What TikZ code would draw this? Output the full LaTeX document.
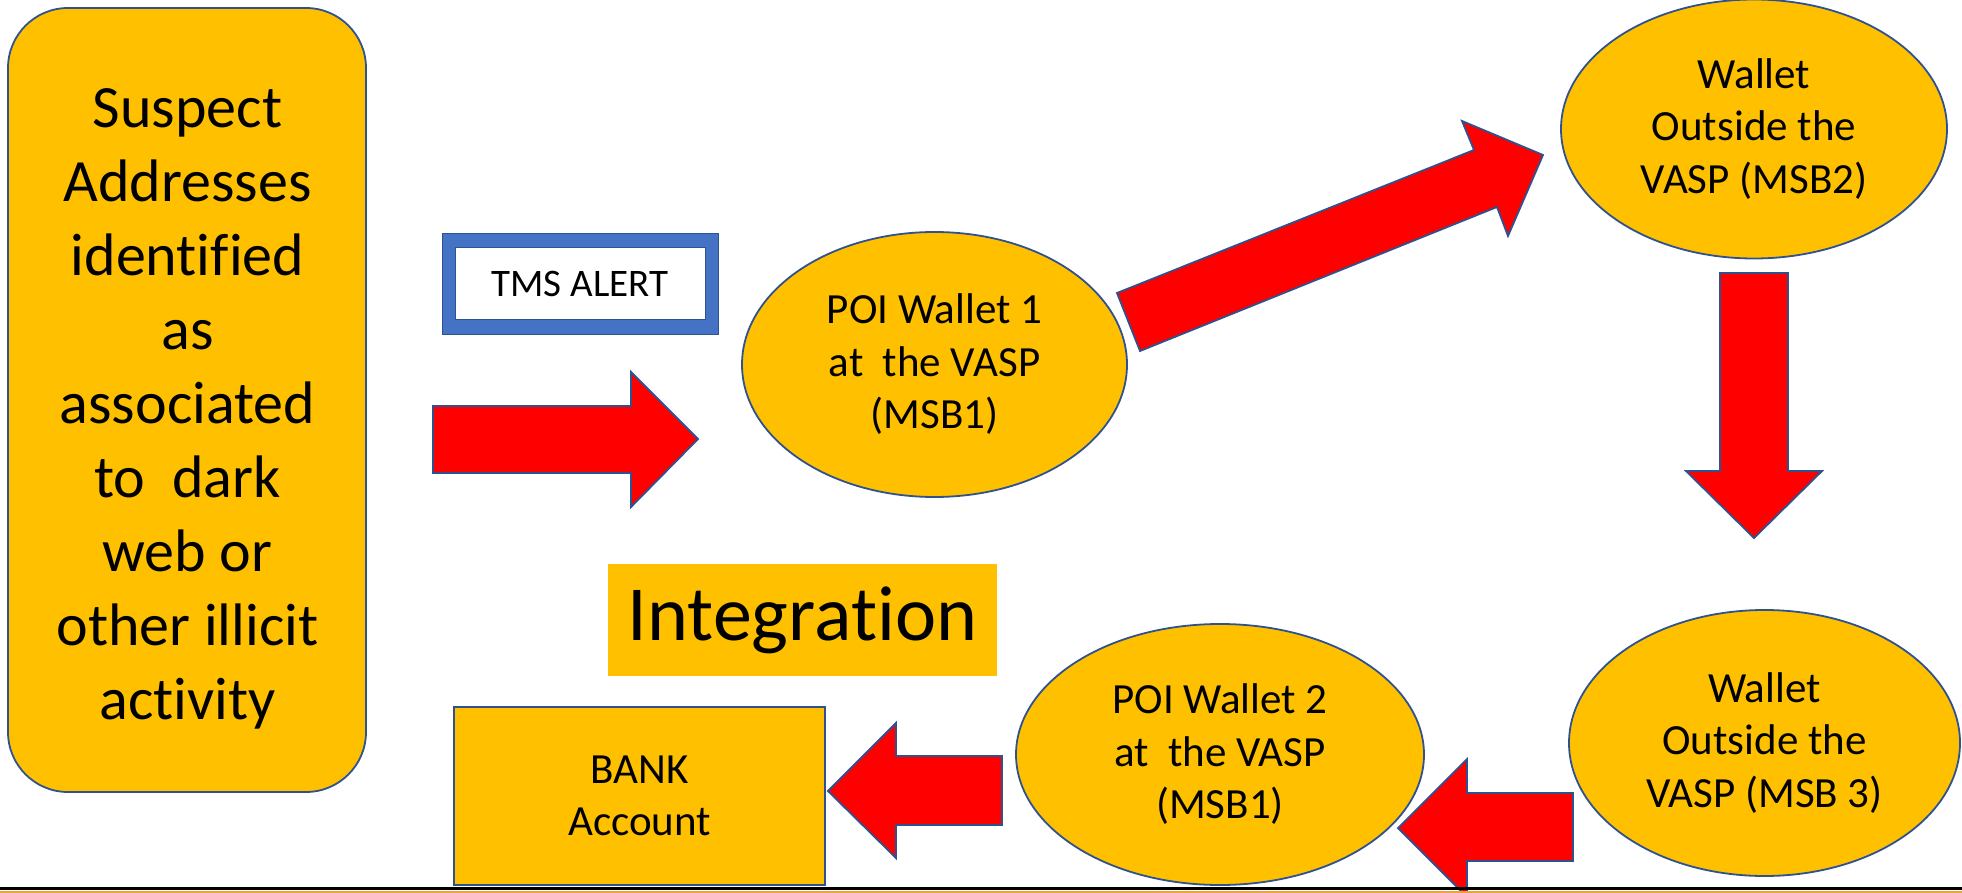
\documentclass[tikz,border=0pt]{standalone}
\usepackage{fontspec}
\setmainfont{Carlito}[Ligatures={NoCommon}]
\usetikzlibrary{shapes.geometric}
\definecolor{gold}{HTML}{FFC000}
\definecolor{edge}{HTML}{2F528F}
\definecolor{tmsblue}{HTML}{4472C4}
\definecolor{arrred}{HTML}{FF0000}
\definecolor{baseorange}{HTML}{E8A33A}
\begin{document}
\begin{tikzpicture}[x=1pt,y=-1pt,
  oval/.style={ellipse,draw=edge,line width=1.8pt,fill=gold,inner sep=0pt,align=center,font={\fontsize{43}{52.5}\selectfont}},
  blockarrow/.style={draw=edge,line width=1.8pt,fill=arrred,line join=miter},
  goldbox/.style={draw=edge,line width=1.8pt,fill=gold,inner sep=0pt}]
\useasboundingbox (0,0) rectangle (1962,893);
\clip (0,0) rectangle (1962,893);

% left rounded box
\node[goldbox,rounded corners=60pt,minimum width=358pt,minimum height=784pt] (suspect) at (187,400) {};
\node[align=center,inner sep=0pt,font={\fontsize{60}{74}\selectfont}] (suspecttext) at (187.5,409)
  {Suspect\\Addresses\\identified\\as\\associated\\to~~dark\\web or\\other illicit\\activity};

% TMS alert
\node[fill=tmsblue,draw=edge,line width=1pt,minimum width=276pt,minimum height=100pt,inner sep=0pt] (tmsframe) at (580,284) {};
\node[fill=white,draw=edge,line width=1pt,minimum width=250pt,minimum height=71pt,inner sep=0pt,font={\fontsize{39}{47}\selectfont}] (tms) at (580,283.5) {TMS ALERT};

% ellipses
\node[oval,minimum width=385pt,minimum height=265pt] (poi1) at (934.5,364.5) {POI Wallet 1\\at~~the VASP\\(MSB1)};
\node[oval,minimum width=386pt,minimum height=259pt] (msb2) at (1754,129) {Wallet\\Outside the\\VASP (MSB2)};
\node[oval,minimum width=391pt,minimum height=266pt] (msb3) at (1764.5,743) {Wallet\\Outside the\\VASP (MSB 3)};
\node[oval,minimum width=408pt,minimum height=261pt] (poi2) at (1220,754.5) {POI Wallet 2\\at~~the VASP\\(MSB1)};

% bank and integration
\node[goldbox,minimum width=371pt,minimum height=178pt,align=center,font={\fontsize{43}{52.5}\selectfont}] (bank) at (639.5,796) {BANK\\Account};
\node[fill=gold,minimum width=389pt,minimum height=112pt,inner sep=0pt,font={\fontsize{78}{92}\selectfont}] (integ) at (802.5,620) {Integration};

% block arrows
\draw[blockarrow] (433,406) -- (631,406) -- (631,372) -- (698,439) -- (631,507) -- (631,473) -- (433,473) -- cycle;
\draw[blockarrow] (1117,293) -- (1474,150) -- (1462,121) -- (1543,155) -- (1508,236) -- (1497,207) -- (1140,351) -- cycle;
\draw[blockarrow] (1720,273) -- (1788,273) -- (1788,471) -- (1822,471) -- (1754,538) -- (1686,471) -- (1720,471) -- cycle;
\draw[blockarrow] (1573,793) -- (1467,793) -- (1467,759) -- (1398,828) -- (1467,897) -- (1467,861) -- (1573,861) -- cycle;
\draw[blockarrow] (1002,756) -- (896,756) -- (896,723) -- (828,791) -- (896,858) -- (896,825) -- (1002,825) -- cycle;

% bottom rule
\draw[line width=3pt] (0,888.5) -- (1962,888.5);
\draw[baseorange,line width=1.5pt] (0,892.2) -- (1962,892.2);
\end{tikzpicture}
\end{document}
